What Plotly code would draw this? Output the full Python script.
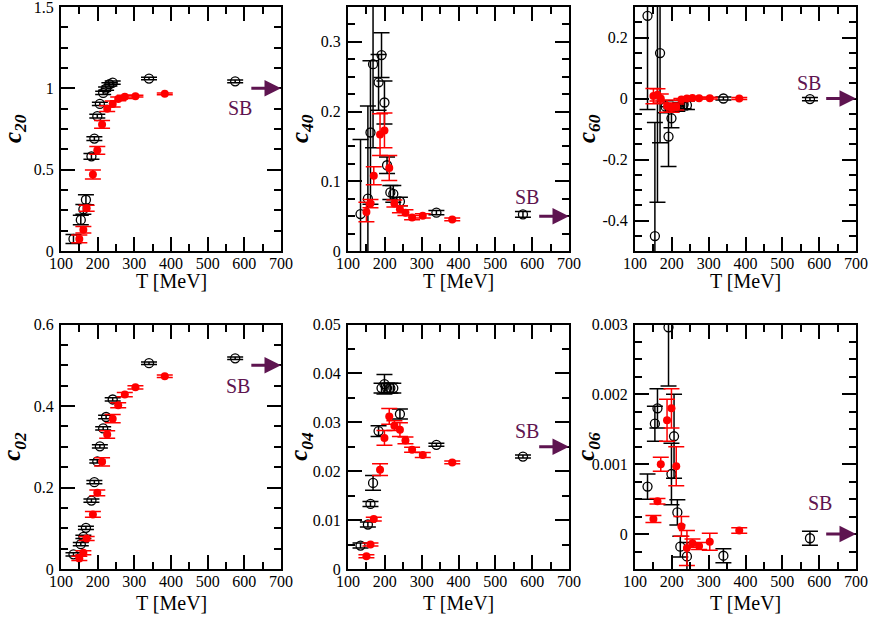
import plotly.graph_objects as go

# ---------------- data ----------------
T_black = [134, 154, 161, 168, 183, 191, 199, 206, 215, 223, 232, 241, 340, 575]
T_red = [150, 161, 170, 187, 199, 212, 226, 241, 256, 274, 303, 383]

c20_black = [0.074, 0.191, 0.256, 0.315, 0.582, 0.691, 0.829, 0.904, 0.972, 0.998, 1.025, 1.035, 1.06, 1.043]
c20_black_err = [0.028, 0.029, 0.03, 0.031, 0.018, 0.012, 0.012, 0.01, 0.01, 0.01, 0.01, 0.01, 0.008, 0.008]
c20_red = [0.074, 0.13, 0.263, 0.47, 0.619, 0.778, 0.875, 0.904, 0.935, 0.948, 0.952, 0.966]
c20_red_err = [0.024, 0.02, 0.018, 0.028, 0.024, 0.024, 0.018, 0.018, 0.012, 0.01, 0.006, 0.006]

c40_black = [0.053, 0.075, 0.170, 0.268, 0.242, 0.281, 0.213, 0.123, 0.084, 0.082, None, 0.071, 0.055, 0.0525]
c40_black_err = [0.107, 0.133, 0.103, 0.12, 0.04, 0.032, 0.031, 0.012, 0.01, 0.012, 0, 0.006, 0.003, 0.004]
c40_red = [0.056, 0.068, 0.108, 0.167, 0.173, 0.119, 0.068, 0.060, 0.055, 0.048, 0.0505, 0.0453]
c40_red_err = [0.014, 0.006, 0.013, 0.03, 0.025, 0.018, 0.005, 0.005, 0.004, 0.003, 0.003, 0.002]

c60_black = [0.271, -0.451, 0.40, 0.149, -0.027, -0.125, -0.065, -0.03, -0.03, -0.025, -0.02, -0.022, 0.0, -0.002]
c60_black_err = [0.307, 0.372, 0.74, 0.294, 0.02, 0.098, 0.031, 0.012, 0.012, 0.012, 0.014, 0.014, 0.005, 0.005]
c60_red = [0.008, 0.012, 0.0, -0.025, -0.03, -0.028, -0.003, 0.0, 0.002, 0.001, 0.001, 0.0]
c60_red_err = [0.025, 0.02, 0.015, 0.02, 0.015, 0.01, 0.003, 0.003, 0.003, 0.003, 0.003, 0.003]

c02_black = [0.036, 0.061, 0.079, 0.101, 0.168, 0.213, 0.264, 0.301, 0.345, 0.373, None, 0.416, 0.505, 0.517]
c02_black_err = [0.004, 0.004, 0.004, 0.004, 0.004, 0.004, 0.004, 0.004, 0.004, 0.004, 0, 0.004, 0.003, 0.003]
c02_red = [0.026, 0.040, 0.075, 0.134, 0.187, 0.263, 0.330, 0.369, 0.402, 0.428, 0.446, 0.473]
c02_red_err = [0.005, 0.005, 0.005, 0.007, 0.007, 0.01, 0.009, 0.01, 0.006, 0.005, 0.004, 0.003]

c04_black = [0.0048, 0.0091, 0.0133, 0.0176, 0.0282, 0.0370, 0.0378, 0.0370, 0.0370, 0.0370, None, 0.0317, 0.0254, 0.0230]
c04_black_err = [0.0005, 0.0005, 0.0005, 0.0015, 0.0011, 0.001, 0.002, 0.001, 0.001, 0.001, 0, 0.001, 0.0003, 0.0003]
c04_red = [0.0026, 0.0050, 0.0102, 0.0203, 0.0268, 0.0312, 0.0293, 0.0285, 0.0263, 0.0244, 0.0233, 0.0218]
c04_red_err = [0.0003, 0.0003, 0.0004, 0.0012, 0.0015, 0.0016, 0.001, 0.0014, 0.0007, 0.0005, 0.0005, 0.0003]

c06_black = [0.00068, 0.00158, 0.00180, None, None, 0.00296, 0.00086, 0.00140, 0.00031, -0.00018, None, -0.00032, -0.00031, -0.00006]
c06_black_err = [0.00018, 0.00025, 0.00028, 0, 0, 0.00084, 0.00044, 0.0006, 0.00018, 0.00015, 0, 0.0002, 0.0001, 0.0001]
c06_red = [0.000215, 0.00047, 0.00100, 0.00163, 0.00180, 0.00097, 0.00011, -0.00020, -0.00013, -0.00017, -0.00011, 0.00005]
c06_red_err = [0.00005, 0.00004, 0.0001, 0.0003, 0.00028, 0.00028, 0.00014, 0.00025, 0.00006, 0.00005, 0.00012, 0.00004]

SB_values = [1.0, 0.05, 0.0, 0.5, 0.025, 0.0]
x_ticks = [100, 200, 300, 400, 500, 600, 700]

panels = [
    dict(name="20", b=c20_black, be=c20_black_err, r=c20_red, re=c20_red_err,
         yr=[0, 1.5], dt=0.5, mdt=0.125, sbx=588, sby=0.88),
    dict(name="40", b=c40_black, be=c40_black_err, r=c40_red, re=c40_red_err,
         yr=[0, 0.35], dt=0.1, mdt=0.025, sbx=587, sby=0.078),
    dict(name="60", b=c60_black, be=c60_black_err, r=c60_red, re=c60_red_err,
         yr=[-0.5, 0.3], dt=0.2, mdt=0.05, sbx=573, sby=0.051,
         tv=[-0.4, -0.2, 0, 0.2], tt=["-0.4", "-0.2", "0", "0.2"]),
    dict(name="02", b=c02_black, be=c02_black_err, r=c02_red, re=c02_red_err,
         yr=[0, 0.6], dt=0.2, mdt=0.05, sbx=583, sby=0.448),
    dict(name="04", b=c04_black, be=c04_black_err, r=c04_red, re=c04_red_err,
         yr=[0, 0.05], dt=0.01, mdt=0.005, sbx=586, sby=0.0282),
    dict(name="06", b=c06_black, be=c06_black_err, r=c06_red, re=c06_red_err,
         yr=[-0.0005, 0.003], dt=0.001, mdt=0.00025, sbx=603, sby=0.00045),
]

# ---------------- layout ----------------
W, H = 872, 617
xpix = [(61, 281), (348, 569), (635, 856)]
ypix = [(7, 251), (324.5, 569)]
title_off = [30.5, 34]
SERIF = "Liberation Serif"
SBCOL = "#5e1450"

fig = go.Figure()
layout = dict(width=W, height=H, margin=dict(l=0, r=0, t=0, b=0, autoexpand=False),
              paper_bgcolor="white", plot_bgcolor="white", showlegend=False,
              font=dict(family=SERIF, size=16, color="black"))
annotations = []

for i, p in enumerate(panels):
    row, col = divmod(i, 3)
    k = i + 1
    xs = "" if k == 1 else str(k)
    x0, x1 = xpix[col]
    y0, y1 = ypix[row]
    axis_common = dict(showline=True, linewidth=2, linecolor="black", mirror="allticks",
                       ticks="inside", ticklen=14, tickwidth=1.5, tickcolor="black",
                       showgrid=False, zeroline=False, automargin=False,
                       ticklabeloverflow="allow",
                       tickfont=dict(family=SERIF, size=16, color="black"))
    layout["xaxis" + xs] = dict(domain=[x0 / W, x1 / W], range=[100, 700], anchor="y" + xs,
                                tickmode="array", tickvals=x_ticks, ticklabelstandoff=-3,
                                minor=dict(dtick=50, tick0=100, ticks="inside", ticklen=7,
                                           tickwidth=1.5, tickcolor="black"),
                                **axis_common)
    yax = dict(domain=[1 - y1 / H, 1 - y0 / H], range=p["yr"], anchor="x" + xs,
               ticklabelstandoff=2,
               minor=dict(dtick=p["mdt"], tick0=0, ticks="inside", ticklen=7,
                          tickwidth=1.5, tickcolor="black"),
               **axis_common)
    if "tv" in p:
        yax.update(tickmode="array", tickvals=p["tv"], ticktext=p["tt"])
    else:
        yax.update(tickmode="linear", tick0=0, dtick=p["dt"])
    layout["yaxis" + xs] = yax

    fig.add_trace(go.Scatter(
        x=T_black, y=p["b"], mode="markers", xaxis="x" + xs, yaxis="y" + xs,
        marker=dict(symbol="circle-open", size=9, color="black", line=dict(width=1.3, color="black")),
        error_y=dict(type="data", array=p["be"], visible=True, color="black", thickness=1.5, width=8)))
    fig.add_trace(go.Scatter(
        x=T_red, y=p["r"], mode="markers", xaxis="x" + xs, yaxis="y" + xs,
        marker=dict(symbol="circle", size=8, color="#ff0000"),
        error_y=dict(type="data", array=p["re"], visible=True, color="#ff0000", thickness=1.5, width=8)))

    # SB arrow and label
    sb = SB_values[i]
    annotations.append(dict(x=700, y=sb, ax=615, ay=sb, xref="x" + xs, yref="y" + xs,
                            axref="x" + xs, ayref="y" + xs, text="", showarrow=True,
                            arrowhead=2, arrowsize=1.1, arrowwidth=3, arrowcolor=SBCOL))
    annotations.append(dict(x=p["sbx"], y=p["sby"], xref="x" + xs, yref="y" + xs,
                            text="SB", showarrow=False, xanchor="center", yanchor="middle",
                            font=dict(family=SERIF, size=20, color=SBCOL)))
    # axis titles
    annotations.append(dict(x=(x0 + x1) / 2 / W, y=1 - (y1 + title_off[row]) / H,
                            xref="paper", yref="paper",
                            text="T [MeV]", showarrow=False, xanchor="center", yanchor="middle",
                            font=dict(family=SERIF, size=20, color="black")))
    annotations.append(dict(x=(x0 - 47) / W, y=1 - ((y0 + y1) / 2) / H, xref="paper", yref="paper",
                            text="<b><i>c</i></b><sub><b><i>%s</i></b></sub>" % p["name"],
                            textangle=-90, showarrow=False, xanchor="center", yanchor="middle",
                            font=dict(family=SERIF, size=25, color="black")))

layout["annotations"] = annotations
fig.update_layout(**layout)
fig.write_html("out.html", config={"displayModeBar": False},
               post_script="document.body.style.margin='0';document.body.style.padding='0';")
